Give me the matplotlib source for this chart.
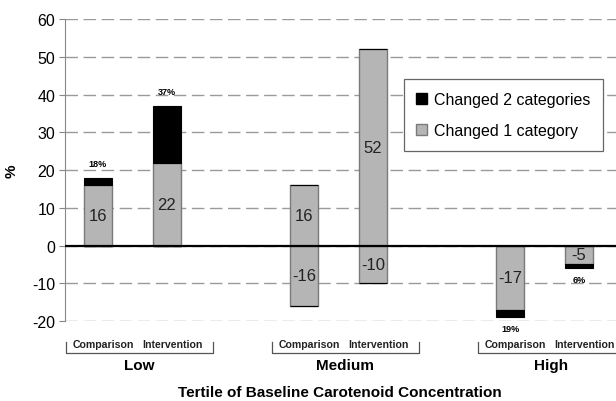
import matplotlib
matplotlib.use("Agg")
import matplotlib.pyplot as plt
from matplotlib.patches import Patch

plt.rcParams['font.family'] = ['Liberation Sans', 'DejaVu Sans']
plt.rcParams['axes.unicode_minus'] = False

# Tertile groups and arms
groups = ["Low", "Medium", "High"]
arms = ["Comparison", "Intervention"]

# Bar positions (group gap of one bar slot)
pos = [0, 1, 3, 4, 6, 7]

# Changed 1 category (positive = up, negative = down)
one_up = [16, 22, 16, 52, 0, 0]
one_down = [0, 0, -16, -10, -17, -5]
# Changed 2 categories
two_up = [2, 15, 0, 0, 0, 0]
two_down = [0, 0, 0, 0, -2, -1]
# Total percentage labels
totals = ["18%", "37%", "", "", "19%", "6%"]

gray = "#b5b5b5"
edge = "#7a7a7a"

fig = plt.figure(figsize=(6.16, 4.02), dpi=100)
ax = fig.add_axes([0.1055, 0.199, 0.8945, 0.751])

w = 0.41
ax.bar(pos, one_up, w, color=gray, edgecolor=edge, linewidth=1, zorder=3)
ax.bar(pos, one_down, w, color=gray, edgecolor=edge, linewidth=1, zorder=3)
ax.bar(pos, two_up, w, bottom=one_up, color="black", edgecolor="black", linewidth=0.8, zorder=3)
ax.bar(pos, two_down, w, bottom=one_down, color="black", edgecolor="black", linewidth=0.8, zorder=3)

# value labels inside the gray segments
for x, u, d in zip(pos, one_up, one_down):
    if u:
        ax.text(x, u / 2, str(u), ha="center", va="center", fontsize=12, color="#222222", zorder=4)
    if d:
        ax.text(x, d / 2, str(d), ha="center", va="center", fontsize=12, color="#222222", zorder=4)

# total percentage labels
for x, u, tu, d, td, lab in zip(pos, one_up, two_up, one_down, two_down, totals):
    if not lab:
        continue
    if tu:
        ax.text(x, u + tu + 2.5, lab, ha="center", va="bottom", fontsize=6.5, fontweight="bold")
    else:
        ax.text(x, d + td - 1.8, lab, ha="center", va="top", fontsize=6.5, fontweight="bold")

ax.axhline(0, color="black", linewidth=1.6, zorder=5)

ax.set_ylim(-20, 60)
ax.set_xlim(-0.48, 7.54)
ax.set_yticks(range(-20, 61, 10))
ax.tick_params(axis="y", labelsize=11.5, length=4, color="#888888", pad=3)
ax.set_xticks([])
ax.yaxis.grid(True, linestyle=(0, (9, 4)), color="#9a9a9a", linewidth=1, zorder=0)
for s in ["top", "right", "bottom"]:
    ax.spines[s].set_visible(False)
ax.spines["left"].set_color("#888888")
ax.set_ylabel("%", fontsize=11, fontweight="bold", labelpad=10)

# arm labels, brackets and group labels below the axis
trans = ax.get_xaxis_transform()
for gi, g in enumerate(groups):
    x0 = pos[2 * gi]
    x1 = pos[2 * gi + 1]
    ax.text(x0 + 0.08, -0.075, arms[0], transform=trans, ha="center", va="center",
            fontsize=7.6, fontweight="bold", color="#222222")
    ax.text(x1 + 0.08, -0.075, arms[1], transform=trans, ha="center", va="center",
            fontsize=7.6, fontweight="bold", color="#222222")
    mid = (x0 + x1) / 2 + 0.1
    bl, br = mid - 1.07, mid + 1.07
    ax.plot([bl, bl, br, br], [-0.07, -0.106, -0.106, -0.07], transform=trans,
            color="#555555", linewidth=0.9, clip_on=False)
    ax.text(mid, -0.147, g, transform=trans, ha="center", va="center",
            fontsize=11, fontweight="bold")

fig.text(0.552, 0.022, "Tertile of Baseline Carotenoid Concentration",
         ha="center", va="center", fontsize=11, fontweight="bold")

handles = [Patch(facecolor="black", edgecolor="black", label="Changed 2 categories"),
           Patch(facecolor=gray, edgecolor=edge, label="Changed 1 category")]
leg = ax.legend(handles=handles, loc="upper right", bbox_to_anchor=(611 / 616, 1 - 72 / 402),
                bbox_transform=fig.transFigure, fontsize=11.5, fancybox=False,
                edgecolor="#666666", framealpha=1, handlelength=0.7, handleheight=0.7,
                handletextpad=0.4, borderpad=0.8, labelspacing=1.0)
leg.get_frame().set_linewidth(0.9)
leg.set_zorder(6)

fig.savefig("out.png", dpi=100)
plt.close(fig)
